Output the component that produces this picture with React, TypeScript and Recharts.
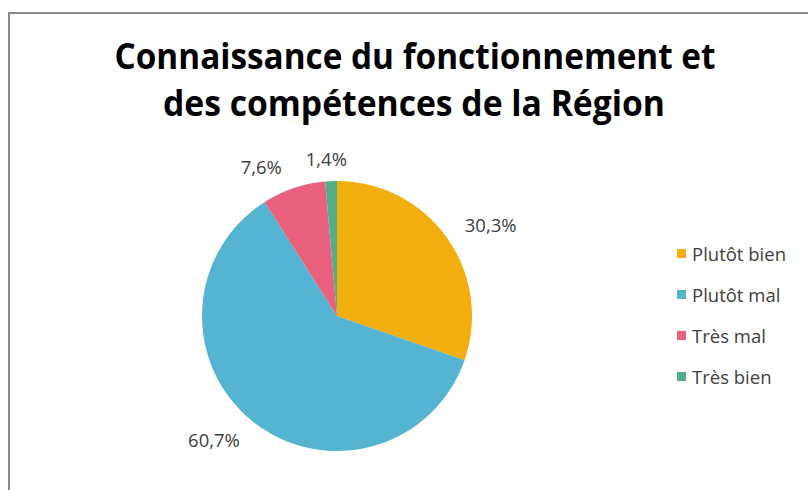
import React from "react";
import { PieChart, Pie, Cell, Legend } from "recharts";

const CATEGORIES = ["Plutôt bien", "Plutôt mal", "Très mal", "Très bien"];
const VALUES = [30.3, 60.7, 7.6, 1.4];
const COLORS = ["#F2AE0C", "#55B4D2", "#E9607C", "#52AE86"];
const TITLE_LINES = ["Connaissance du fonctionnement et", "des compétences de la Région"];

const FONT = "'Open Sans', Lato, sans-serif";

const data = CATEGORIES.map((name, i) => ({ name, value: VALUES[i] }));

const RADIAN = Math.PI / 180;

// excel style "outside end": label box sits just outside the arc
const renderLabel = (props: any) => {
  const { cx, cy, midAngle, outerRadius, value } = props;
  const r = outerRadius + 23;
  const ux = Math.cos(-midAngle * RADIAN);
  const uy = Math.sin(-midAngle * RADIAN);
  const shift = 25 * Math.max(-1, Math.min(1, ux / 0.3));
  const x = cx + r * ux + shift;
  const y = cy + r * uy;
  return (
    <text
      x={x}
      y={y}
      fill="#404040"
      fontSize={18.5}
      fontFamily={FONT}
      textAnchor="middle"
      dominantBaseline="central"
    >
      {value.toFixed(1).replace(".", ",")}%
    </text>
  );
};

const LegendContent = ({ payload }: any) => {
  // keep the slice order, not the alphabetical one
  const items = [...(payload || [])].sort(
    (a: any, b: any) => CATEGORIES.indexOf(a.value) - CATEGORIES.indexOf(b.value)
  );
  return (
    <div style={{ fontFamily: FONT, fontSize: 18.5, color: "#404040" }}>
      {items.map((entry: any, i: number) => (
        <div
          key={i}
          style={{ display: "flex", alignItems: "center", height: 41 }}
        >
          <span
            style={{
              display: "inline-block",
              width: 9,
              height: 9,
              background: entry.color,
              marginRight: 6,
            }}
          />
          <span>{entry.value}</span>
        </div>
      ))}
    </div>
  );
};

export default function App() {
  return (
    <div
      style={{
        position: "absolute",
        left: 0,
        top: 0,
        width: 808,
        height: 490,
        background: "#fff",
        overflow: "hidden",
      }}
    >
      <div
        style={{
          position: "absolute",
          left: 8,
          top: 12,
          width: 900,
          height: 600,
          borderTop: "2px solid #8a8a8a",
          borderLeft: "2px solid #8a8a8a",
        }}
      />
      <svg
        width={808}
        height={130}
        style={{ position: "absolute", left: 0, top: 0 }}
      >
        <text
          x={415}
          y={69}
          textAnchor="middle"
          fontFamily={FONT}
          fontWeight="bold"
          fontSize={35}
          textLength={601}
          lengthAdjust="spacingAndGlyphs"
          fill="#000"
        >
          {TITLE_LINES[0]}
        </text>
        <text
          x={414}
          y={116}
          textAnchor="middle"
          fontFamily={FONT}
          fontWeight="bold"
          fontSize={35}
          textLength={502}
          lengthAdjust="spacingAndGlyphs"
          fill="#000"
        >
          {TITLE_LINES[1]}
        </text>
      </svg>
      <div style={{ position: "absolute", left: 0, top: 0 }}>
        <PieChart
          width={808}
          height={490}
          margin={{ top: 0, right: 0, bottom: 0, left: 0 }}
        >
          <Pie
            data={data}
            dataKey="value"
            nameKey="name"
            cx={337}
            cy={316}
            outerRadius={135}
            startAngle={90}
            endAngle={-270}
            stroke="none"
            label={renderLabel}
            labelLine={false}
            isAnimationActive={false}
          >
            {data.map((_, i) => (
              <Cell key={i} fill={COLORS[i]} />
            ))}
          </Pie>
          <Legend
            layout="vertical"
            align="right"
            verticalAlign="top"
            content={<LegendContent />}
            wrapperStyle={{ left: 677, top: 233, width: 131 }}
          />
        </PieChart>
      </div>
    </div>
  );
}
